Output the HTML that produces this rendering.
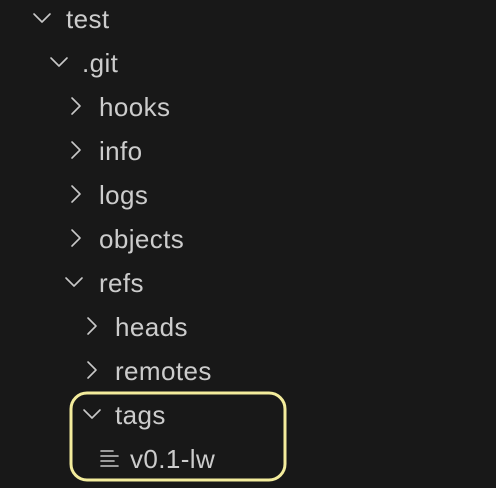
<!DOCTYPE html>
<html><head><meta charset="utf-8"><style>
html,body{margin:0;padding:0;background:#181818;}
#c{position:relative;width:496px;height:488px;overflow:hidden;background:#181818;font-family:"Liberation Sans",sans-serif;}
.t{position:absolute;color:#cccccc;font-size:26px;line-height:26px;letter-spacing:0.4px;white-space:nowrap}
svg{position:absolute;left:0;top:0}
</style></head><body><div id="c">
<svg width="496" height="488" fill="none" stroke="#c8c8c8" stroke-width="1.6" stroke-linecap="round" stroke-linejoin="round">
<polyline points="34,14 42,22 50,14"/>
<polyline points="51,58 59,66 67,58"/>
<polyline points="72,98 80,106 72,114"/>
<polyline points="72,142 80,150 72,158"/>
<polyline points="72,186 80,194 72,202"/>
<polyline points="72,230 80,238 72,246"/>
<polyline points="66,278 74,286 82,278"/>
<polyline points="88,318 96,326 88,334"/>
<polyline points="88,362 96,370 88,378"/>
<polyline points="84,410 92,418 100,410"/>
<line x1="101" y1="451" x2="113" y2="451"/>
<line x1="101" y1="456" x2="118" y2="456"/>
<line x1="101" y1="461" x2="114" y2="461"/>
<line x1="101" y1="466" x2="118" y2="466"/>
<rect x="71" y="393" width="214" height="87" rx="16" stroke="#f3ec9c" stroke-width="3"/>
</svg>
<div class="t" style="left:66px;top:6px">test</div>
<div class="t" style="left:82px;top:50px">.git</div>
<div class="t" style="left:99px;top:94px">hooks</div>
<div class="t" style="left:99px;top:138px">info</div>
<div class="t" style="left:99px;top:182px">logs</div>
<div class="t" style="left:99px;top:226px">objects</div>
<div class="t" style="left:99px;top:270px">refs</div>
<div class="t" style="left:115px;top:314px">heads</div>
<div class="t" style="left:115px;top:358px">remotes</div>
<div class="t" style="left:115px;top:402px">tags</div>
<div class="t" style="left:130px;top:446px">v0.1-lw</div>
</div></body></html>
